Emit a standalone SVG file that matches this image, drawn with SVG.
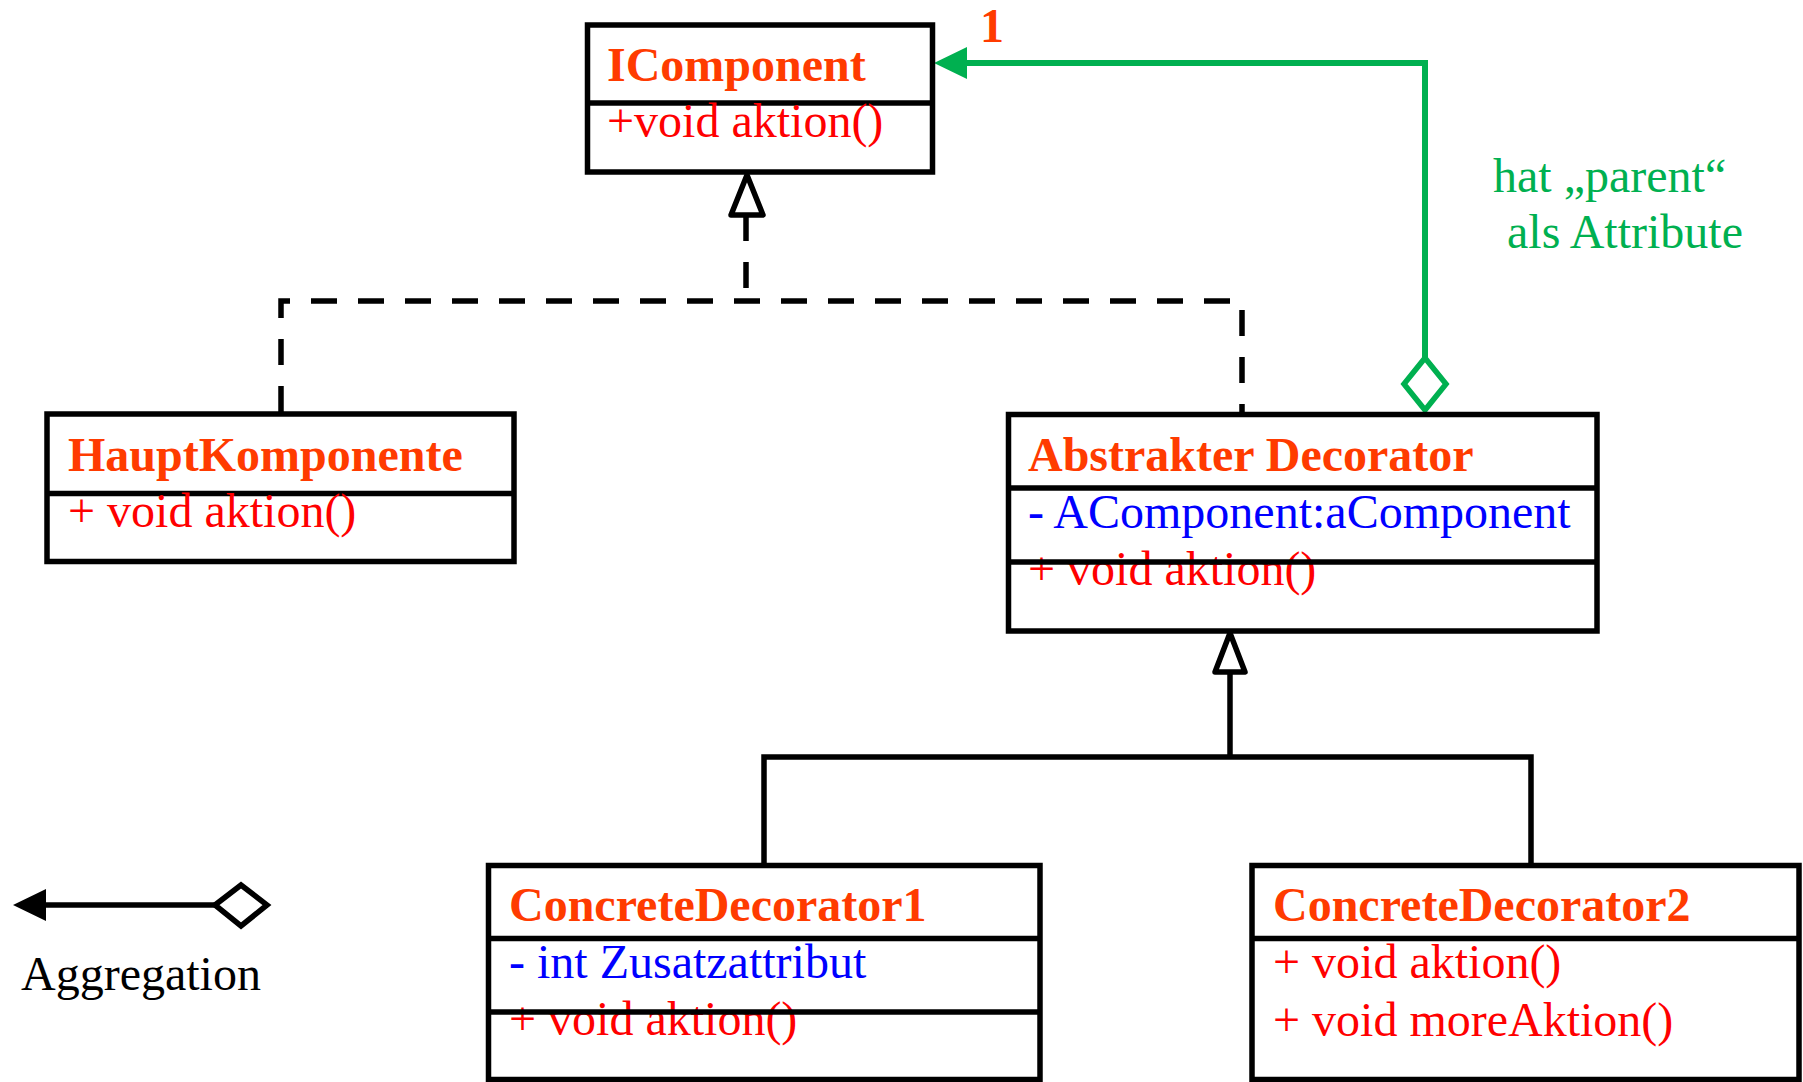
<svg xmlns="http://www.w3.org/2000/svg" width="1803" height="1082" viewBox="0 0 1803 1082">
<defs>
<style>
.box{fill:#fff;stroke:#000;stroke-width:5.5}
.div{stroke:#000;stroke-width:5.5}
.t{font-family:"Liberation Serif","Times New Roman",serif;font-size:48px}
.title{font-weight:bold;fill:#FF3B00}
.meth{fill:#FF0000}
.attr{fill:#0000FF}
.green{fill:#00B050}
.dash{fill:none;stroke:#000;stroke-width:5.5;stroke-dasharray:26 21}
.solid{fill:none;stroke:#000;stroke-width:5.5}
.tri{fill:#fff;stroke:#000;stroke-width:5.5;stroke-linejoin:round}
.gline{fill:none;stroke:#00B050;stroke-width:6}
</style>
</defs>
<g id="connectors">
  <path class="dash" d="M746,215 V301"/>
  <path class="dash" d="M281,412 V301 H1242 V414"/>
  <polygon class="tri" points="747,175 763,215 731,215"/>
  <path class="solid" d="M1230,673 V757 M764,865 V757 H1531 V865"/>
  <polygon class="tri" points="1230,633 1245,672 1215,672"/>
  <path class="gline" d="M1425,358 V63 H965"/>
  <polygon points="934,63 967,47 967,79" fill="#00B050"/>
  <polygon points="1425,358 1446,384 1425,410 1404,384" fill="#fff" stroke="#00B050" stroke-width="5.5"/>
  <text class="t title" x="980" y="42">1</text>
  <text class="t green" x="1493" y="192">hat „parent“</text>
  <text class="t green" x="1507" y="248">als Attribute</text>
</g>
<g id="IComponent">
  <rect class="box" x="587.5" y="25" width="345" height="147"/>
  <line class="div" x1="587.5" y1="103" x2="932.5" y2="103"/>
  <text class="t title" x="607" y="81">IComponent</text>
  <text class="t meth" x="607" y="137">+void aktion()</text>
</g>
<g id="HauptKomponente">
  <rect class="box" x="47" y="414" width="467" height="147.5"/>
  <line class="div" x1="47" y1="493.5" x2="514" y2="493.5"/>
  <text class="t title" x="68" y="471">HauptKomponente</text>
  <text class="t meth" x="68" y="527">+ void aktion()</text>
</g>
<g id="AbstrakterDecorator">
  <rect class="box" x="1008.5" y="414.5" width="588.5" height="216.5"/>
  <line class="div" x1="1008.5" y1="488" x2="1597" y2="488"/>
  <text class="t title" x="1028" y="471">Abstrakter Decorator</text>
  <text class="t attr" x="1028" y="528">- AComponent:aComponent</text>
  <text class="t meth" x="1028" y="585">+ void aktion()</text>
  <line class="div" x1="1008.5" y1="562" x2="1597" y2="562"/>
</g>
<g id="ConcreteDecorator1">
  <rect class="box" x="488.5" y="865.5" width="551.5" height="214"/>
  <line class="div" x1="488.5" y1="938.5" x2="1040" y2="938.5"/>
  <text class="t title" x="509" y="921">ConcreteDecorator1</text>
  <text class="t attr" x="509" y="978">- int Zusatzattribut</text>
  <text class="t meth" x="509" y="1035">+ void aktion()</text>
  <line class="div" x1="488.5" y1="1012" x2="1040" y2="1012"/>
</g>
<g id="ConcreteDecorator2">
  <rect class="box" x="1252" y="865.5" width="547" height="214"/>
  <line class="div" x1="1252" y1="938.5" x2="1799" y2="938.5"/>
  <text class="t title" x="1273" y="921">ConcreteDecorator2</text>
  <text class="t meth" x="1273" y="978">+ void aktion()</text>
  <text class="t meth" x="1273" y="1036">+ void moreAktion()</text>
</g>
<g id="legend">
  <line x1="44" y1="905" x2="216" y2="905" stroke="#000" stroke-width="5.5"/>
  <polygon points="13,905 46,889 46,921" fill="#000"/>
  <polygon points="215,905 241,885 267,905 241,926" fill="#fff" stroke="#000" stroke-width="5.5"/>
  <text class="t" x="21" y="990" fill="#000">Aggregation</text>
</g>
</svg>
